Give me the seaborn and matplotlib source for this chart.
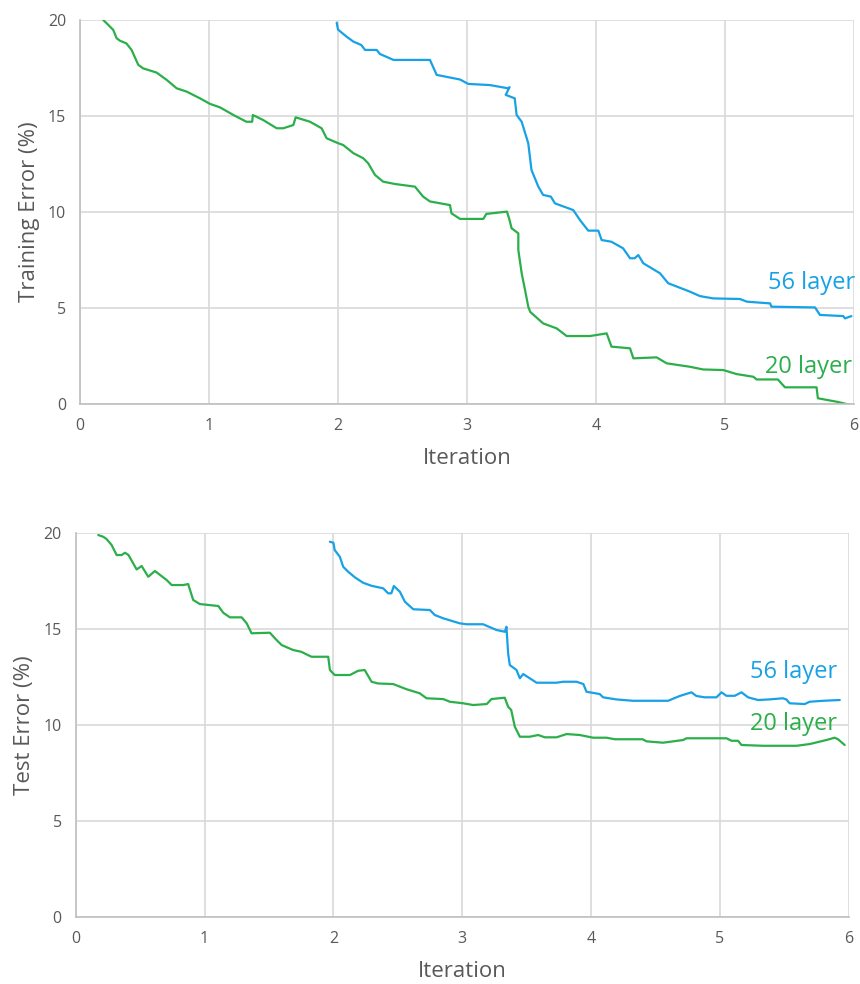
import matplotlib
matplotlib.use("Agg")
import matplotlib.pyplot as plt
import seaborn as sns
import pandas as pd

# ---- Training error data ----
train20_x = [0.18, 0.22, 0.258, 0.284, 0.31, 0.36, 0.40, 0.452, 0.49, 0.594, 0.672, 0.75, 0.827, 0.93,
             1.008, 1.085, 1.19, 1.29, 1.335, 1.34, 1.42, 1.525, 1.576, 1.654, 1.672, 1.783, 1.873, 1.912,
             2.002, 2.04, 2.12, 2.196, 2.235, 2.287, 2.35, 2.44, 2.597, 2.66, 2.713, 2.868, 2.88, 2.946,
             3.127, 3.15, 3.31, 3.33, 3.346, 3.398, 3.398, 3.424, 3.45, 3.475, 3.49, 3.59, 3.695, 3.773,
             3.953, 4.083, 4.12, 4.264, 4.29, 4.47, 4.548, 4.729, 4.83, 4.987, 5.09, 5.22, 5.245, 5.41,
             5.465, 5.71, 5.72, 5.866, 5.975]
train20_y = [20.0, 19.74, 19.48, 19.05, 18.92, 18.78, 18.44, 17.66, 17.48, 17.26, 16.88, 16.44, 16.27, 15.92,
             15.63, 15.45, 15.05, 14.70, 14.70, 15.05, 14.79, 14.36, 14.36, 14.53, 14.93, 14.70, 14.36, 13.84,
             13.58, 13.49, 13.06, 12.80, 12.53, 11.93, 11.58, 11.46, 11.32, 10.80, 10.55, 10.36, 9.93, 9.64,
             9.64, 9.90, 10.02, 9.58, 9.15, 8.89, 8.02, 6.81, 5.94, 5.07, 4.80, 4.20, 3.94, 3.54,
             3.54, 3.68, 2.99, 2.90, 2.38, 2.43, 2.12, 1.94, 1.80, 1.77, 1.56, 1.42, 1.28, 1.28,
             0.87, 0.87, 0.30, 0.12, -0.05]

train56_x = [1.99, 2.0, 2.067, 2.12, 2.18, 2.21, 2.30, 2.325, 2.43, 2.713, 2.765, 2.946, 3.01, 3.178,
             3.32, 3.33, 3.30, 3.37, 3.385, 3.424, 3.475, 3.50, 3.553, 3.59, 3.65, 3.682, 3.824, 3.876,
             3.94, 4.018, 4.044, 4.12, 4.21, 4.264, 4.30, 4.328, 4.367, 4.496, 4.56, 4.729, 4.806, 4.91,
             5.116, 5.17, 5.35, 5.36, 5.698, 5.736, 5.917, 5.93, 5.98]
train56_y = [19.86, 19.5, 19.13, 18.87, 18.70, 18.44, 18.44, 18.23, 17.92, 17.92, 17.14, 16.90, 16.67, 16.61,
             16.44, 16.50, 16.10, 15.92, 15.05, 14.70, 13.58, 12.19, 11.32, 10.89, 10.80, 10.45, 10.10, 9.58,
             9.03, 9.03, 8.54, 8.45, 8.11, 7.59, 7.59, 7.76, 7.33, 6.81, 6.29, 5.85, 5.62, 5.50,
             5.47, 5.33, 5.24, 5.07, 5.03, 4.64, 4.58, 4.46, 4.58]

# ---- Test error data ----
test20_x = [0.175, 0.214, 0.24, 0.279, 0.318, 0.357, 0.383, 0.41, 0.473, 0.512, 0.563, 0.615, 0.706, 0.745,
            0.835, 0.873, 0.912, 0.964, 1.107, 1.145, 1.197, 1.288, 1.327, 1.365, 1.507, 1.546, 1.598, 1.688,
            1.75, 1.83, 1.96, 1.973, 2.01, 2.128, 2.192, 2.243, 2.296, 2.347, 2.464, 2.568, 2.67, 2.723,
            2.852, 2.904, 3.007, 3.085, 3.19, 3.227, 3.33, 3.356, 3.38, 3.408, 3.447, 3.524, 3.589, 3.641,
            3.732, 3.81, 3.912, 4.016, 4.12, 4.184, 4.40, 4.43, 4.559, 4.714, 4.74, 5.05, 5.09, 5.14,
            5.167, 5.335, 5.594, 5.697, 5.826, 5.89, 5.916, 5.968]
test20_y = [19.88, 19.79, 19.67, 19.36, 18.84, 18.84, 18.96, 18.84, 18.09, 18.27, 17.71, 18.01, 17.54, 17.28,
            17.28, 17.33, 16.50, 16.29, 16.19, 15.84, 15.60, 15.60, 15.29, 14.77, 14.80, 14.51, 14.16, 13.90,
            13.81, 13.55, 13.55, 12.86, 12.60, 12.60, 12.82, 12.86, 12.25, 12.16, 12.13, 11.86, 11.65, 11.39,
            11.35, 11.21, 11.13, 11.04, 11.09, 11.35, 11.42, 10.95, 10.78, 9.91, 9.39, 9.39, 9.48, 9.36,
            9.36, 9.53, 9.48, 9.34, 9.34, 9.26, 9.26, 9.15, 9.08, 9.22, 9.31, 9.31, 9.18, 9.18,
            8.96, 8.92, 8.92, 9.01, 9.22, 9.34, 9.26, 8.96]

test56_x = [1.973, 2.0, 2.01, 2.05, 2.076, 2.115, 2.167, 2.23, 2.296, 2.386, 2.425, 2.45, 2.469, 2.516,
            2.555, 2.62, 2.749, 2.787, 2.852, 2.98, 3.033, 3.162, 3.266, 3.331, 3.343, 3.356, 3.369, 3.421,
            3.447, 3.473, 3.577, 3.732, 3.783, 3.887, 3.94, 3.964, 4.067, 4.093, 4.197, 4.326, 4.597, 4.688,
            4.779, 4.817, 4.882, 4.973, 5.012, 5.05, 5.115, 5.167, 5.218, 5.296, 5.38, 5.489, 5.515, 5.541,
            5.658, 5.696, 5.80, 5.93]
test56_y = [19.53, 19.48, 19.10, 18.75, 18.23, 17.97, 17.68, 17.40, 17.24, 17.11, 16.85, 16.85, 17.23, 16.93,
            16.41, 16.02, 15.98, 15.72, 15.55, 15.29, 15.24, 15.24, 14.94, 14.85, 15.11, 13.73, 13.12, 12.86,
            12.43, 12.65, 12.20, 12.20, 12.25, 12.25, 12.13, 11.73, 11.61, 11.44, 11.33, 11.26, 11.26, 11.51,
            11.70, 11.51, 11.44, 11.44, 11.70, 11.52, 11.52, 11.70, 11.44, 11.30, 11.33, 11.39, 11.33, 11.13,
            11.09, 11.21, 11.26, 11.30]

x_ticks = [0, 1, 2, 3, 4, 5, 6]
y_ticks = [0, 5, 10, 15, 20]
series_labels = ["56 layer", "20 layer"]

BLUE = "#17A1E6"
GREEN = "#2BAF4A"
GRAY = "#595959"

sns.set_style("whitegrid", {"grid.color": "#D9D9D9", "axes.edgecolor": "#BFBFBF"})
plt.rcParams["font.family"] = ["Open Sans", "DejaVu Sans"]

fig = plt.figure(figsize=(8.6, 9.84), dpi=100)
ax1 = fig.add_axes([0.093, 0.5894, 0.900, 0.3903])
ax2 = fig.add_axes([0.088, 0.0678, 0.899, 0.3908])


def draw(ax, x56, y56, x20, y20, ylabel, t56, t20):
    d56 = pd.DataFrame({"Iteration": x56, "err": y56})
    d20 = pd.DataFrame({"Iteration": x20, "err": y20})
    sns.lineplot(data=d56, x="Iteration", y="err", ax=ax, color=BLUE, lw=1.6, sort=False, estimator=None)
    sns.lineplot(data=d20, x="Iteration", y="err", ax=ax, color=GREEN, lw=1.6, sort=False, estimator=None)
    ax.set_xlim(0, 6)
    ax.set_ylim(0, 20)
    ax.set_xticks(x_ticks)
    ax.set_yticks(y_ticks)
    ax.grid(True, color="#D9D9D9", lw=1.2)
    ax.tick_params(length=0, pad=10, labelsize=11.5, labelcolor=GRAY)
    for s in ["top", "right"]:
        ax.spines[s].set_visible(False)
    for s in ["left", "bottom"]:
        ax.spines[s].set_color("#BFBFBF")
        ax.spines[s].set_linewidth(1.2)
    ax.set_xlabel("Iteration", fontsize=16, color=GRAY, labelpad=10)
    ax.set_ylabel(ylabel, fontsize=16, color=GRAY, labelpad=6)
    ax.text(t56[0], t56[1], series_labels[0], color=BLUE, fontsize=17, va="center", ha="left", clip_on=False)
    ax.text(t20[0], t20[1], series_labels[1], color=GREEN, fontsize=17, va="center", ha="left", clip_on=False)


draw(ax1, train56_x, train56_y, train20_x, train20_y, "Training Error (%)", (5.33, 6.3), (5.31, 1.93))
draw(ax2, test56_x, test56_y, test20_x, test20_y, "Test Error (%)", (5.23, 12.76), (5.23, 10.05))

fig.savefig("out.png", dpi=100)
